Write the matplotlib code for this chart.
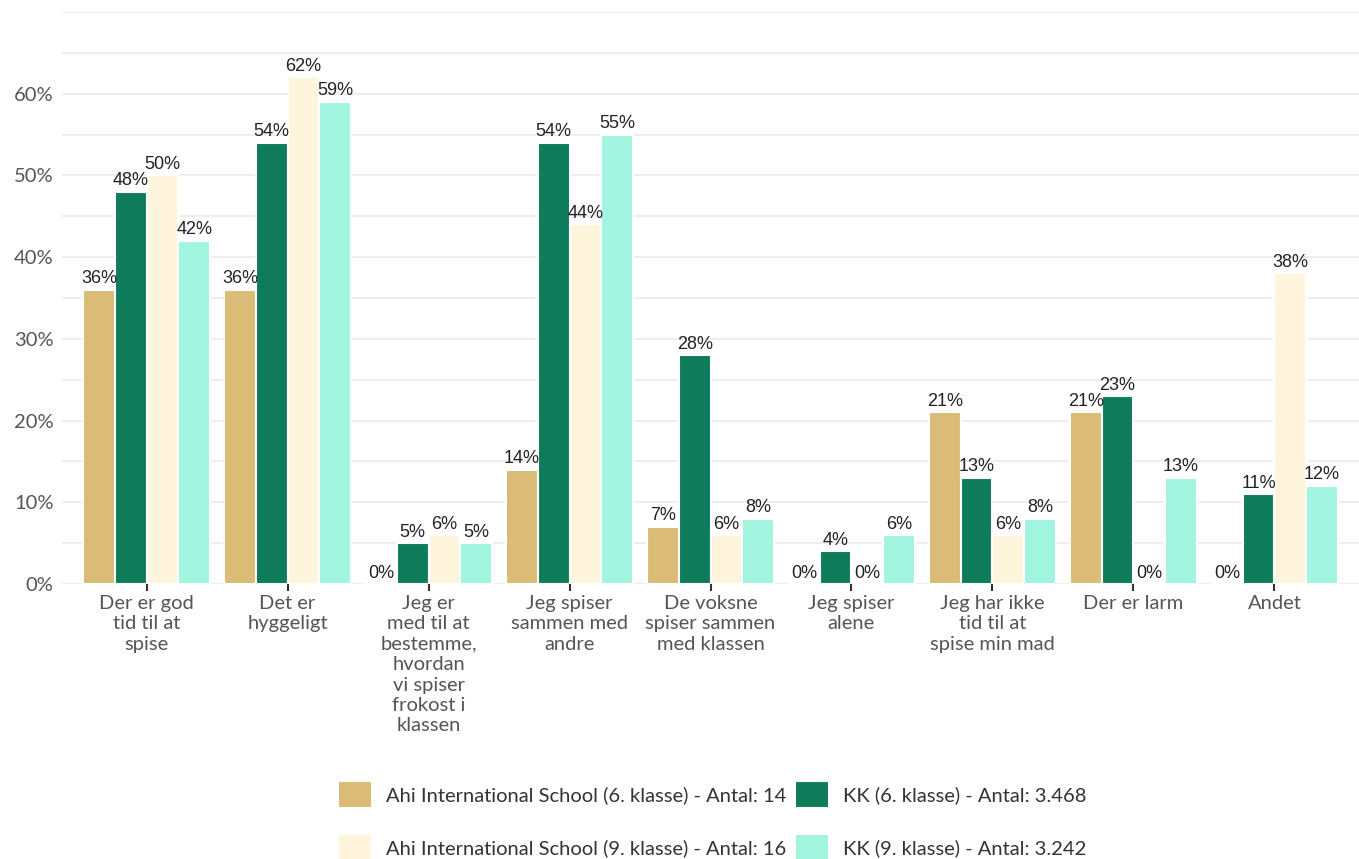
import numpy as np
import matplotlib
matplotlib.use("Agg")
import matplotlib.pyplot as plt
from matplotlib.ticker import MultipleLocator, FixedLocator

categories = [
    "Der er god\ntid til at\nspise",
    "Det er\nhyggeligt",
    "Jeg er\nmed til at\nbestemme,\nhvordan\nvi spiser\nfrokost i\nklassen",
    "Jeg spiser\nsammen med\nandre",
    "De voksne\nspiser sammen\nmed klassen",
    "Jeg spiser\nalene",
    "Jeg har ikke\ntid til at\nspise min mad",
    "Der er larm",
    "Andet",
]
series_names = [
    "Ahi International School (6. klasse) - Antal: 14",
    "KK (6. klasse) - Antal: 3.468",
    "Ahi International School (9. klasse) - Antal: 16",
    "KK (9. klasse) - Antal: 3.242",
]
ahi_6 = [36, 36, 0, 14, 7, 0, 21, 21, 0]
kk_6 = [48, 54, 5, 54, 28, 4, 13, 23, 11]
ahi_9 = [50, 62, 6, 44, 6, 0, 6, 0, 38]
kk_9 = [42, 59, 5, 55, 8, 6, 8, 13, 12]
colors = ["#DBBC76", "#0E7C5B", "#FFF5DC", "#A2F5DF"]

series = [ahi_6, kk_6, ahi_9, kk_9]

fig = plt.figure(figsize=(13.59, 8.59), dpi=100)
ax = fig.add_axes([62 / 1359, 1 - 584 / 859, 1 - 62 / 1359, (584 - 12) / 859])

x = np.arange(len(categories))
w = 0.225
bars = []
for i, (vals, col) in enumerate(zip(series, colors)):
    pos = x + (i - 1.5) * w
    b = ax.bar(pos, vals, width=w, color=col, edgecolor="white", linewidth=1.5,
               zorder=3, label=series_names[i])
    bars.append(b)
    for p, v in zip(pos, vals):
        ax.text(p, v + 0.3, f"{v}%", ha="center", va="bottom", fontsize=13,
                color="#222222", family="Liberation Sans", zorder=4)

ax.set_xlim(-0.6, 8.6)
ax.set_ylim(0, 70)
ax.yaxis.set_major_locator(FixedLocator(range(0, 61, 10)))
ax.yaxis.set_minor_locator(MultipleLocator(5))
ax.set_yticklabels([f"{t}%" for t in range(0, 61, 10)])
ax.grid(axis="y", which="both", color="#EBEBEB", linewidth=1.2, zorder=0)
for s in ax.spines.values():
    s.set_visible(False)

ax.set_xticks(x)
ax.set_xticklabels(categories, fontsize=14.5, color="#555555", family="Lato",
                   linespacing=1.24)
ax.tick_params(axis="x", length=5, width=1.5, color="#333333", pad=3)
ax.tick_params(axis="y", which="both", length=0, labelsize=14.5,
               labelcolor="#555555", pad=6)
for t in ax.get_yticklabels():
    t.set_family("Lato")

handles = [bars[0], bars[2], bars[1], bars[3]]
labels = [series_names[0], series_names[2], series_names[1], series_names[3]]
fig.legend(handles, labels, ncol=2, loc="center", bbox_to_anchor=(0.524, 0.044),
           frameon=False, prop={"family": "Lato", "size": 14.5},
           handlelength=1.7, handleheight=1.7, handletextpad=0.7,
           columnspacing=0.4, labelspacing=1.3, labelcolor="#333333")

fig.savefig("out.png", dpi=100)
